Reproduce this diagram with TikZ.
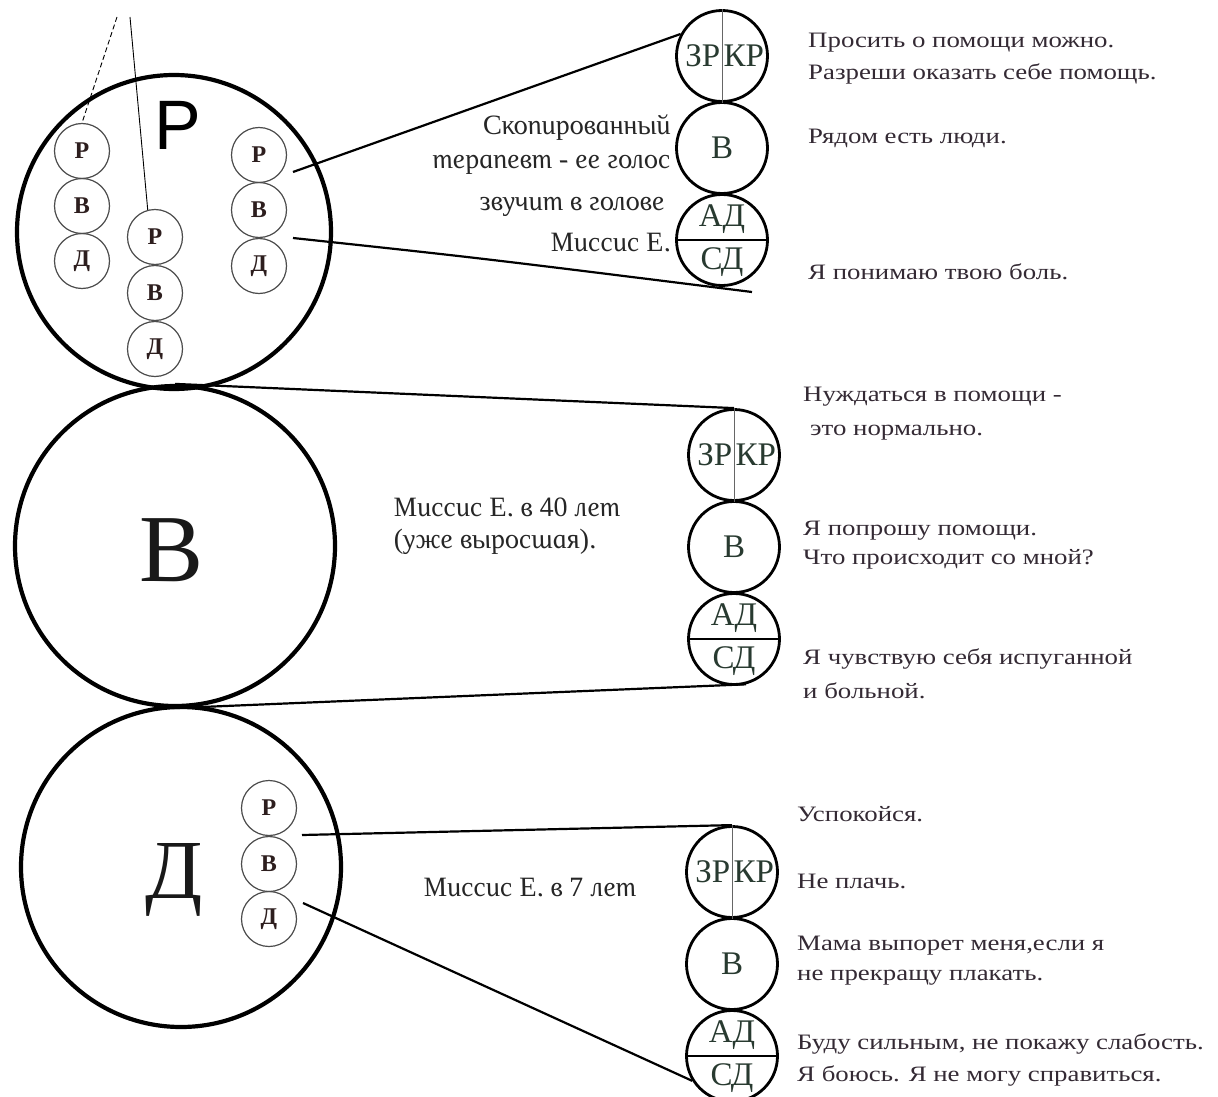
\documentclass[tikz,border=0pt]{standalone}
\usepackage{fontspec}
\setmainfont{Liberation Serif}
\newfontfamily\widef{Liberation Serif}[FakeStretch=1.22]
\newfontfamily\notef{Liberation Serif Italic}[FakeSlant=-0.2]
\newfontfamily\bigsans{Liberation Sans}
\usetikzlibrary{calc}
\definecolor{stackc}{RGB}{40,58,48}
\definecolor{rtc}{RGB}{52,42,52}
\definecolor{smallc}{RGB}{45,30,30}
\begin{document}
\begin{tikzpicture}[x=1pt,y=-1pt,
  big/.style={circle,draw,line width=4.2pt,inner sep=0pt,minimum size=#1},
  small/.style={circle,draw=black!70,line width=1.2pt,minimum size=55pt,inner sep=0pt,
    font=\fontsize{24}{24}\selectfont\bfseries,text=smallc},
  stk/.style={circle,draw,line width=2.8pt,minimum size=91pt,inner sep=0pt},
  stxt/.style={font=\fontsize{33}{33}\selectfont,text=stackc,inner sep=0pt},
  rtxt/.style={anchor=west,font=\widef\fontsize{22}{25}\selectfont,text=rtc,inner sep=0pt},
  ntxt/.style={font=\notef\fontsize{28}{30}\selectfont,inner sep=0pt,text=black!85},
  conn/.style={line width=2.2pt},
  sep/.style={line width=0.8pt,draw=black!60},
  hsep/.style={line width=2.2pt}]
\fill[white] (0,0) rectangle (1218,1097);
\useasboundingbox (0,0) rectangle (1218,1097);

% big circles
\node[big=314pt] (P) at (174,232) {};
\node[big=320pt] (B) at (175,546) {};
\node[big=320pt] (D) at (181,867) {};
\node[font=\bigsans\fontsize{70}{70}\selectfont,inner sep=0pt] (Pl) at (178,125) {Р};
\node[font=\fontsize{96}{96}\selectfont,inner sep=0pt,text=black!90] (Bl) at (172,550) {В};
\node[font=\fontsize{84}{84}\selectfont,inner sep=0pt,text=black!90] (Dl) at (174,880) {Д};

% small circles in Р
\node[small] (lp1) at (82,151) {Р};
\node[small] (lp2) at (82,206) {В};
\node[small] (lp3) at (82,261) {Д};
\node[small] (mp1) at (155,237) {Р};
\node[small] (mp2) at (155,293) {В};
\node[small] (mp3) at (155,349) {Д};
\node[small] (rp1) at (259,155) {Р};
\node[small] (rp2) at (259,210) {В};
\node[small] (rp3) at (259,266) {Д};
% small circles in Д
\node[small] (dp1) at (269,808) {Р};
\node[small] (dp2) at (269,864) {В};
\node[small] (dp3) at (269,919) {Д};

% stacks
\foreach \i/\x/\y in {1/722/56, 2/734/455, 3/732/872}{
  \node[stk] (tz\i) at (\x,\y) {};
  \node[stk] (tv\i) at (\x,\y+92) {};
  \node[stk] (ta\i) at (\x,\y+184) {};
  \draw[sep] (tz\i.north) -- (tz\i.south);
  \draw[hsep] (ta\i.west) -- (ta\i.east);
  \node[stxt,anchor=east] at ($(tz\i.center)+(-1.5,0)$) {ЗР};
  \node[stxt,anchor=west] at ($(tz\i.center)+(1.5,0)$) {КР};
  \node[stxt] at (tv\i.center) {В};
  \node[stxt] at ($(ta\i.center)+(0,-21)$) {АД};
  \node[stxt] at ($(ta\i.center)+(0,22)$) {СД};
}

% connectors
\coordinate (t1) at (117,17);
\coordinate (t2) at (130,17);
\draw[line width=0.9pt,dash pattern=on 5pt off 3pt] (t1) -- (lp1.north);
\draw[line width=0.9pt] (t2) -- (mp1.105);
\coordinate (u1) at (293,172);
\coordinate (u2) at (293,238);
\coordinate (u3) at (752,292);
\draw[conn] (u1) -- (tz1.152);
\draw[conn] (u2) .. controls (480,258) .. (u3);
\draw[conn] (B.north) -- (tz2.north);
\draw[conn] (B.south) -- (ta2.-75);
\coordinate (w1) at (302,835);
\coordinate (w2) at (303,903);
\draw[conn] (w1) -- (tz3.north);
\draw[conn] (w2) -- (ta3.212);

% notes
\node[ntxt,anchor=east] (n1) at (672,128) {Скопированный};
\node[ntxt,anchor=east] (n2) at (672,165) {терапевт - ее голос};
\node[ntxt,anchor=east] (n3) at (666,207) {звучит в голове};
\node[ntxt,anchor=east] (n4) at (672,243) {Миссис Е.};
\node[ntxt,anchor=west] (n5) at (395,507) {Миссис Е. в 40 лет};
\node[ntxt,anchor=west] (n6) at (395,542) {(уже выросшая).};
\node[ntxt,anchor=west] (n7) at (425,888) {Миссис Е. в 7 лет};

% right texts
\node[rtxt] (r1) at (808,43) {Просить о помощи можно.};
\node[rtxt] (r2) at (808,74) {Разреши оказать себе помощь.};
\node[rtxt] (r3) at (808,138) {Рядом есть люди.};
\node[rtxt] (r4) at (808,272) {Я понимаю твою боль.};
\node[rtxt] (r5) at (803,397) {Нуждаться в помощи -};
\node[rtxt] (r6) at (810,433) {это нормально.};
\node[rtxt] (r7) at (803,531) {Я попрошу помощи.};
\node[rtxt] (r8) at (803,559) {Что происходит со мной?};
\node[rtxt] (r9) at (803,659) {Я чувствую себя испуганной};
\node[rtxt] (r10) at (803,691) {и больной.};
\node[rtxt] (r11) at (797,814) {Успокойся.};
\node[rtxt] (r12) at (797,881) {Не плачь.};
\node[rtxt] (r13) at (797,946) {Мама выпорет меня,если я};
\node[rtxt] (r14) at (797,978) {не прекращу плакать.};
\node[rtxt] (r15) at (797,1044) {Буду сильным, не покажу слабость.};
\node[rtxt] (r16) at (797,1076) {Я боюсь. Я не могу справиться.};
\end{tikzpicture}
\end{document}
